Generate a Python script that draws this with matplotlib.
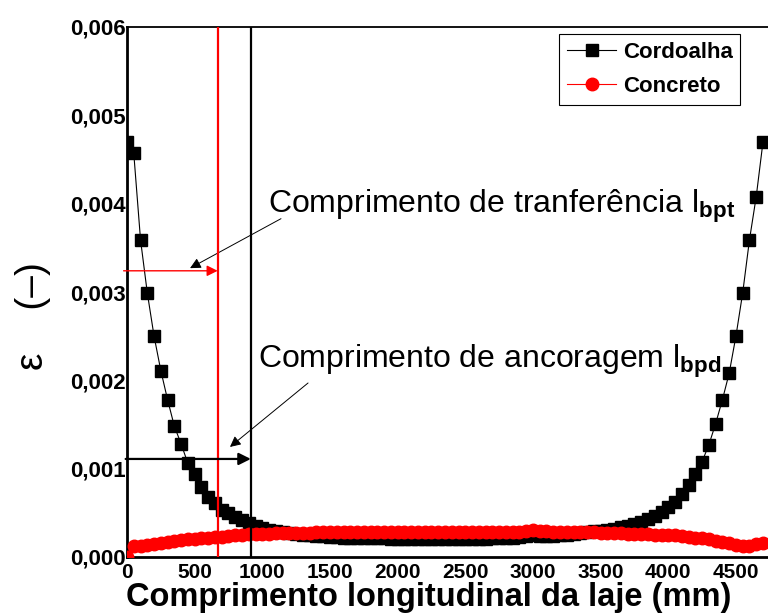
import matplotlib
matplotlib.use("Agg")
import matplotlib.pyplot as plt
from matplotlib.ticker import FuncFormatter, MultipleLocator

plt.rcParams['font.family'] = 'Liberation Sans'
plt.rcParams['mathtext.fontset'] = 'custom'
plt.rcParams['mathtext.rm'] = 'Liberation Sans'
plt.rcParams['mathtext.bf'] = 'Liberation Sans:bold'

# posições ao longo da laje (mm)
pos_mm = [0, 50, 100, 150, 200, 250, 300, 350, 400, 450,
          500, 550, 600, 650, 700, 750, 800, 850, 900, 950,
          1000, 1050, 1100, 1150, 1200, 1250, 1300, 1350, 1400, 1450,
          1500, 1550, 1600, 1650, 1700, 1750, 1800, 1850, 1900, 1950,
          2000, 2050, 2100, 2150, 2200, 2250, 2300, 2350, 2400, 2450,
          2500, 2550, 2600, 2650, 2700, 2750, 2800, 2850, 2900, 2950,
          3000, 3050, 3100, 3150, 3200, 3250, 3300, 3350, 3400, 3450,
          3500, 3550, 3600, 3650, 3700, 3750, 3800, 3850, 3900, 3950,
          4000, 4050, 4100, 4150, 4200, 4250, 4300, 4350, 4400, 4450,
          4500, 4550, 4600, 4650, 4700]

# deformação (x 1e-3)
cordoalha = [4.70, 4.57, 3.59, 2.99, 2.50, 2.11, 1.78, 1.48, 1.28, 1.06,
             0.94, 0.79, 0.68, 0.61, 0.53, 0.50, 0.45, 0.42, 0.385, 0.35,
             0.33, 0.31, 0.29, 0.28, 0.27, 0.26, 0.25, 0.245, 0.24, 0.235,
             0.23, 0.225, 0.22, 0.22, 0.215, 0.215, 0.21, 0.21, 0.21, 0.205,
             0.205, 0.205, 0.20, 0.20, 0.20, 0.20, 0.20, 0.20, 0.20, 0.20,
             0.20, 0.20, 0.205, 0.205, 0.21, 0.21, 0.215, 0.22, 0.225, 0.235,
             0.245, 0.235, 0.235, 0.24, 0.245, 0.25, 0.26, 0.27, 0.28, 0.29,
             0.30, 0.31, 0.32, 0.335, 0.35, 0.37, 0.40, 0.43, 0.46, 0.51,
             0.57, 0.62, 0.71, 0.82, 0.94, 1.08, 1.27, 1.51, 1.78, 2.08,
             2.50, 2.99, 3.59, 4.08, 4.70]

concreto = [0.0, 0.12, 0.13, 0.14, 0.15, 0.16, 0.17, 0.18, 0.19, 0.20,
            0.205, 0.21, 0.22, 0.225, 0.23, 0.24, 0.245, 0.25, 0.255, 0.26,
            0.265, 0.265, 0.27, 0.27, 0.27, 0.275, 0.275, 0.275, 0.28, 0.28,
            0.28, 0.28, 0.28, 0.28, 0.28, 0.28, 0.28, 0.28, 0.28, 0.28,
            0.28, 0.28, 0.28, 0.28, 0.28, 0.28, 0.28, 0.28, 0.28, 0.28,
            0.28, 0.28, 0.28, 0.28, 0.28, 0.28, 0.28, 0.28, 0.28, 0.29,
            0.31, 0.30, 0.29, 0.285, 0.285, 0.28, 0.28, 0.28, 0.28, 0.28,
            0.275, 0.275, 0.27, 0.27, 0.265, 0.26, 0.26, 0.255, 0.25, 0.25,
            0.25, 0.245, 0.24, 0.23, 0.22, 0.21, 0.20, 0.185, 0.17, 0.155,
            0.14, 0.12, 0.13, 0.15, 0.16]

assert len(pos_mm) == len(cordoalha) == len(concreto)

l_bpt = 670   # comprimento de transferência (mm)
l_bpd = 915   # comprimento de ancoragem (mm)
y_seta_bpt = 3.24e-3
y_seta_bpd = 1.11e-3

eps_cord = [v * 1e-3 for v in cordoalha]
eps_conc = [v * 1e-3 for v in concreto]

fig = plt.figure(figsize=(7.68, 6.15), dpi=100)
ax = fig.add_axes([127 / 768, 58 / 615, 641 / 768, 530 / 615])

ax.plot(pos_mm, eps_cord, color='black', lw=0.8, marker='s', ms=8,
        mfc='black', mec='black', label='Cordoalha', zorder=3)
ax.plot(pos_mm, eps_conc, color='red', lw=0.8, marker='o', ms=9,
        mfc='red', mec='red', label='Concreto', zorder=4)

ax.axvline(l_bpt, color='red', lw=1.6, zorder=5)
ax.axvline(l_bpd, color='black', lw=1.6, zorder=5)

# setas horizontais
ax.annotate('', xy=(l_bpt, y_seta_bpt), xytext=(-25, y_seta_bpt),
            arrowprops=dict(arrowstyle='-|>', color='red', lw=1.0,
                            mutation_scale=16, shrinkA=0, shrinkB=0),
            zorder=6)
ax.annotate('', xy=(l_bpd, y_seta_bpd), xytext=(-10, y_seta_bpd),
            arrowprops=dict(arrowstyle='-|>', color='black', lw=1.6,
                            mutation_scale=18, shrinkA=0, shrinkB=0),
            zorder=6)

# textos e setas inclinadas
ax.text(1042, 3.896e-3, r'Comprimento de tranferência $\mathrm{l}_{\mathbf{bpt}}$',
        fontsize=23, ha='left', va='baseline')
ax.annotate('', xy=(466, 3.27e-3), xytext=(1138, 3.83e-3),
            arrowprops=dict(arrowstyle='-|>', color='black', lw=0.7,
                            mutation_scale=16, shrinkA=0, shrinkB=0))
ax.text(968, 2.14e-3, r'Comprimento de ancoragem $\mathrm{l}_{\mathbf{bpd}}$',
        fontsize=23, ha='left', va='baseline')
ax.annotate('', xy=(761, 1.246e-3), xytext=(1338, 1.97e-3),
            arrowprops=dict(arrowstyle='-|>', color='black', lw=0.7,
                            mutation_scale=16, shrinkA=0, shrinkB=0))

ax.set_xlim(0, 4737)
ax.set_ylim(0, 0.006)
ax.xaxis.set_major_locator(MultipleLocator(500))
ax.yaxis.set_major_locator(MultipleLocator(0.001))
ax.yaxis.set_major_formatter(FuncFormatter(lambda v, p: f"{v:.3f}".replace('.', ',')))
ax.tick_params(axis='both', length=0)
ax.tick_params(axis='x', pad=4, labelsize=15)
ax.tick_params(axis='y', pad=1, labelsize=16)
for lab in ax.get_xticklabels() + ax.get_yticklabels():
    lab.set_fontweight('bold')

ax.spines['right'].set_visible(False)
ax.spines['left'].set_linewidth(2.0)
ax.spines['bottom'].set_linewidth(2.0)
ax.spines['top'].set_linewidth(1.3)

ax.text(0.47, -0.077, 'Comprimento longitudinal da laje (mm)', transform=ax.transAxes,
        fontsize=23.5, fontweight='bold', ha='center', va='center')
ax.text(-0.147, 0.455, 'ε    (–)', transform=ax.transAxes, rotation=90,
        fontsize=28, ha='center', va='center')

leg = ax.legend(loc='upper right', bbox_to_anchor=(0.957, 0.987), borderaxespad=0,
                fancybox=False, framealpha=1, edgecolor='black',
                prop={'weight': 'bold', 'size': 16}, handlelength=2.2,
                handletextpad=0.3, labelspacing=0.6, borderpad=0.35)
leg.get_frame().set_linewidth(0.8)

fig.savefig('out.png', dpi=100)
